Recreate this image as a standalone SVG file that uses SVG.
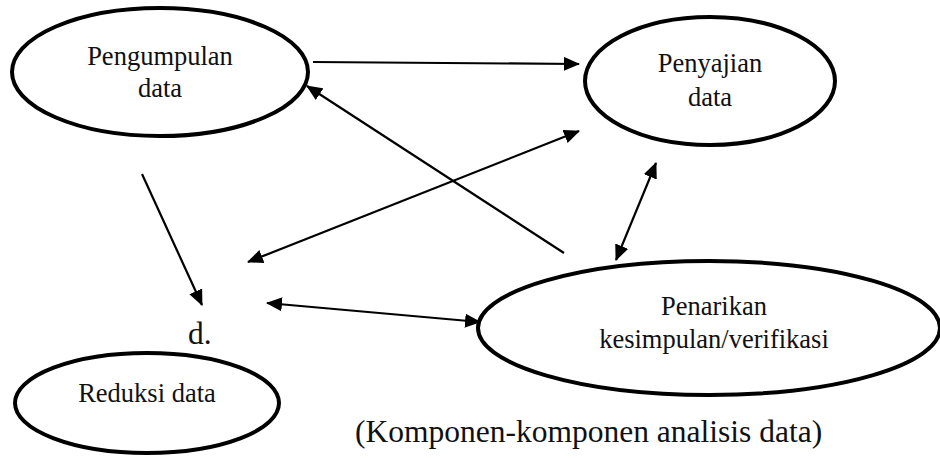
<svg xmlns="http://www.w3.org/2000/svg" width="940" height="458" viewBox="0 0 940 458">
<defs>
<style>
.node ellipse{fill:#fff;stroke:#000;stroke-width:4}
text{font-family:"Liberation Serif","Times New Roman",serif;fill:#111}
.lbl{font-size:26.5px;text-anchor:middle}
.big{font-size:31.5px}
.conn line{stroke:#000;stroke-width:2.2;fill:none}
</style>
<marker id="ah" markerUnits="userSpaceOnUse" markerWidth="16" markerHeight="14" viewBox="0 0 16 14" refX="15" refY="7" orient="auto-start-reverse">
<path d="M0,0 L16,7 L0,14 Z" fill="#000"/>
</marker>
</defs>
<rect width="940" height="458" fill="#fff"/>
<g id="pengumpulan" class="node" font-family="Liberation Serif, serif">
<ellipse cx="160" cy="72" rx="148" ry="64"/>
<text class="lbl" x="160" y="65" font-family="Liberation Serif, serif">Pengumpulan</text>
<text class="lbl" x="160" y="97" font-family="Liberation Serif, serif">data</text>
</g>
<g id="penyajian" class="node" font-family="Liberation Serif, serif">
<ellipse cx="710" cy="81" rx="125" ry="64"/>
<text class="lbl" x="710" y="72" font-family="Liberation Serif, serif">Penyajian</text>
<text class="lbl" x="710" y="106" font-family="Liberation Serif, serif">data</text>
</g>
<g id="penarikan" class="node" font-family="Liberation Serif, serif">
<ellipse cx="709" cy="328" rx="231" ry="67"/>
<text class="lbl" x="714" y="315" font-family="Liberation Serif, serif">Penarikan</text>
<text class="lbl" x="714" y="348" font-family="Liberation Serif, serif">kesimpulan/verifikasi</text>
</g>
<g id="reduksi" class="node" font-family="Liberation Serif, serif">
<ellipse cx="147" cy="403" rx="132" ry="50"/>
<text class="lbl" x="147" y="402" font-family="Liberation Serif, serif">Reduksi data</text>
</g>
<g id="d-label">
<text class="big" x="188" y="344" font-family="Liberation Serif, serif">d.</text>
</g>
<g id="connectors" class="conn">
<line x1="313" y1="62" x2="579" y2="64" marker-end="url(#ah)"/>
<line x1="142" y1="174" x2="202" y2="305" marker-end="url(#ah)"/>
<line x1="564" y1="253" x2="307" y2="86" marker-end="url(#ah)"/>
<line x1="248" y1="262" x2="579" y2="131" marker-start="url(#ah)" marker-end="url(#ah)"/>
<line x1="616" y1="260" x2="656" y2="163" marker-start="url(#ah)" marker-end="url(#ah)"/>
<line x1="267" y1="303" x2="480" y2="322" marker-start="url(#ah)" marker-end="url(#ah)"/>
</g>
<g id="caption">
<text class="big" x="355" y="442" font-family="Liberation Serif, serif">(Komponen-komponen analisis data)</text>
</g>
</svg>
